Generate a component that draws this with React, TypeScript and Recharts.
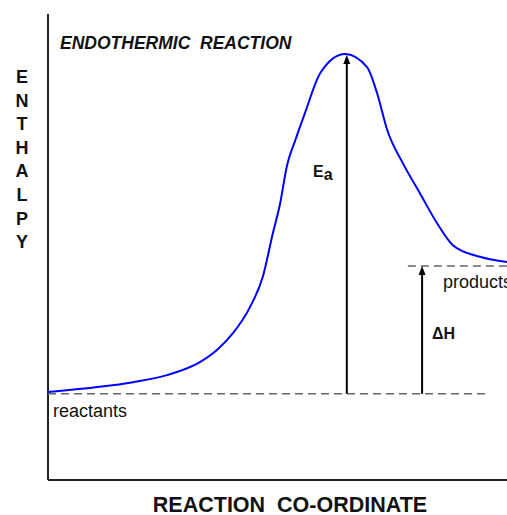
import { LineChart, Line, XAxis, YAxis, ReferenceLine } from 'recharts';

// reaction coordinate (0-100) vs enthalpy (0-100)
const coord = [0, 11.3, 18.5, 25.9, 33.1, 36.8, 40.3, 44.0, 46.8, 49.0, 50.5, 52.1, 53.8, 56.0, 59.3, 64.7, 69.5, 71.7, 73.9, 77.3, 81.0, 84.7, 88.2, 94.1, 100];
const enthalpy = [18.9, 20.0, 21.0, 22.5, 25.3, 27.9, 31.5, 37.1, 43.6, 53.0, 59.0, 67.6, 72.7, 78.8, 87.3, 91.4, 88.6, 83.0, 75.1, 68.0, 61.6, 55.2, 50.4, 47.9, 46.8];

const reactantsLevel = 18.5;
const productsLevel = 45.9;
const peakLevel = 91.2;
const eaAt = 65.1;
const dhAt = 81.5;
const reactantsEnd = 95.6;
const productsStart = 78.4;

const yLetters = ['E', 'N', 'T', 'H', 'A', 'L', 'P', 'Y'];

const data = coord.map((x, i) => ({ x, h: enthalpy[i] }));

const Arrow = (props: any) => {
  const { x1, y1, x2, y2 } = props;
  return (
    <g>
      <line x1={x1} y1={y1} x2={x2} y2={y2 + 6} stroke="#000" strokeWidth={2} />
      <polygon points={`${x2},${y2} ${x2 - 3.5},${y2 + 9} ${x2 + 3.5},${y2 + 9}`} fill="#000" />
    </g>
  );
};

const App = () => {
  return (
    <div style={{ position: 'absolute', left: 0, top: 0, fontFamily: '"Liberation Sans", Arial, sans-serif' }}>
      <LineChart width={507} height={515} data={data} margin={{ top: 14, right: 0, left: 48, bottom: 35 }}>
        <XAxis dataKey="x" type="number" domain={[0, 100]} hide />
        <YAxis type="number" domain={[0, 100]} hide />
        {/* axes */}
        <ReferenceLine x={0} stroke="#222" strokeWidth={2} />
        <ReferenceLine y={0} stroke="#222" strokeWidth={2} />
        <ReferenceLine
          segment={[{ x: 0, y: reactantsLevel }, { x: reactantsEnd, y: reactantsLevel }]}
          stroke="#666"
          strokeWidth={1.5}
          strokeDasharray="8 5"
        />
        <ReferenceLine
          segment={[{ x: productsStart, y: productsLevel }, { x: 100, y: productsLevel }]}
          stroke="#666"
          strokeWidth={1.5}
          strokeDasharray="8 5"
          ifOverflow="visible"
        />
        <ReferenceLine
          segment={[{ x: eaAt, y: reactantsLevel }, { x: eaAt, y: peakLevel }]}
          shape={Arrow}
        />
        <ReferenceLine
          segment={[{ x: dhAt, y: reactantsLevel }, { x: dhAt, y: productsLevel }]}
          shape={Arrow}
        />
        <Line
          type="monotone"
          dataKey="h"
          stroke="#0000ff"
          strokeWidth={2}
          dot={false}
          isAnimationActive={false}
        />
        <text x={60} y={49} fontSize={17.5} fontWeight="bold" fontStyle="italic" fill="#111" style={{ whiteSpace: 'pre' }}>
          ENDOTHERMIC  REACTION
        </text>
        <text x={22} y={83} fontSize={18} fontWeight="bold" fill="#111" textAnchor="middle">
          {yLetters.map((l, i) => (
            <tspan key={l + i} x={22} dy={i === 0 ? 0 : 23.6}>
              {l}
            </tspan>
          ))}
        </text>
        <text x={290} y={512} fontSize={21.5} fontWeight="bold" fill="#111" textAnchor="middle" style={{ whiteSpace: 'pre' }}>
          REACTION  CO-ORDINATE
        </text>
        <text x={53} y={417} fontSize={18} fill="#111">reactants</text>
        <text x={443} y={288} fontSize={18} fill="#111">products</text>
        <text x={313} y={177} fontSize={16} fontWeight="bold" fill="#111">
          E<tspan dy={3}>a</tspan>
        </text>
        <text x={432} y={339} fontSize={16} fontWeight="bold" fill="#111">ΔH</text>
      </LineChart>
    </div>
  );
};

export default App;
